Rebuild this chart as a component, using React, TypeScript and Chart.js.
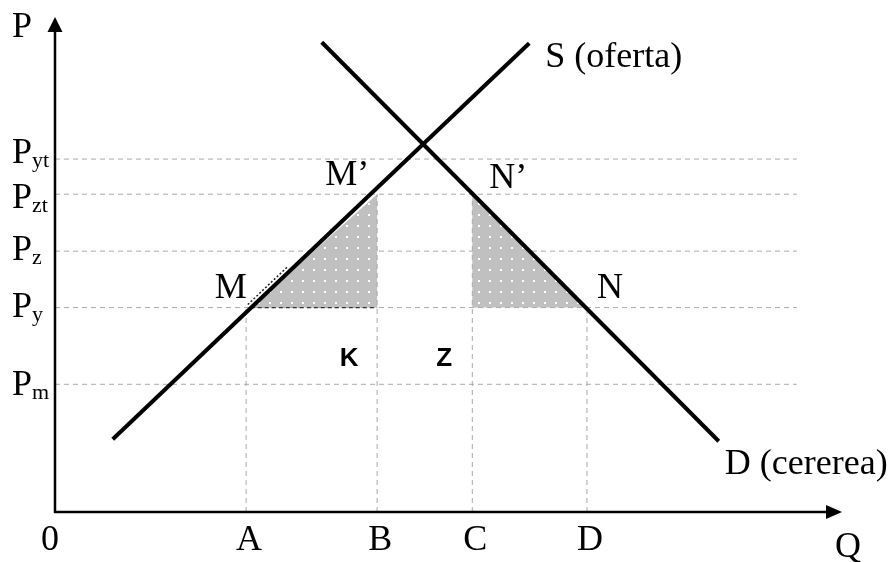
import React, { useEffect, useRef } from "react";
import { Chart, registerables } from "chart.js";

Chart.register(...registerables);

// ---- data ----
const qNames = ["A", "B", "C", "D"];
const qValues = [24.5, 41.3, 53.5, 68.2];
const pSubs = ["yt", "zt", "z", "y", "m"];
const pValues = [71.3, 64.2, 52.7, 41.3, 25.8];
const supplyQ = [7.4, 60.8];
const supplyP = [14.7, 94.7];
const demandQ = [34.2, 85.1];
const demandP = [94.9, 14.3];
const qM = 25.1; // supply meets Py
const guideEnd = 95.1;
const axisXMax = 100.9;
const axisYMax = 100;

const [qA, qB, qC, qD] = qValues;
const [pYt, pZt, pZ, pY, pM] = pValues;

// ---- layout (px offsets of labels) ----
const pLabelDy = [4, 14, 9, 9, 11];
const serif = '"Liberation Serif", "Times New Roman", serif';
const guideColor = "#aaaaaa";

function seg(points: { x: number; y: number }[], extra: any) {
  return {
    type: "line",
    data: points,
    pointRadius: 0,
    pointHoverRadius: 0,
    tension: 0,
    fill: false,
    ...extra,
  };
}

export default function App() {
  const ref = useRef<HTMLCanvasElement | null>(null);

  useEffect(() => {
    const canvas = ref.current!;
    const ctx0 = canvas.getContext("2d")!;
    const tile = document.createElement("canvas");
    tile.width = 11;
    tile.height = 11;
    const tctx = tile.getContext("2d")!;
    tctx.fillStyle = "#c0c0c0";
    tctx.fillRect(0, 0, 11, 11);
    tctx.fillStyle = "#ffffff";
    tctx.fillRect(5, 5, 2, 2);
    const pattern = ctx0.createPattern(tile, "repeat");

    const dashed = { borderColor: guideColor, borderWidth: 1, borderDash: [5, 4] };

    const datasets: any[] = [];
    [pYt, pZt, pZ, pM].forEach((p) =>
      datasets.push(seg([{ x: 0, y: p }, { x: guideEnd, y: p }], { ...dashed, order: 10 }))
    );
    datasets.push(
      seg(
        [
          { x: qM, y: pY },
          { x: qB, y: pZt },
          { x: qB, y: pY },
        ],
        { borderWidth: 0, borderColor: "rgba(0,0,0,0)", backgroundColor: pattern, fill: "shape", order: 6 }
      )
    );
    datasets.push(
      seg(
        [
          { x: qC, y: pY },
          { x: qC, y: pZt },
          { x: qD, y: pY },
        ],
        { borderWidth: 0, borderColor: "rgba(0,0,0,0)", backgroundColor: pattern, fill: "shape", order: 6 }
      )
    );
    datasets.push(seg([{ x: 0, y: pY }, { x: guideEnd, y: pY }], { ...dashed, order: 4 }));
    datasets.push(seg([{ x: qA, y: 0 }, { x: qA, y: pY }], { ...dashed, order: 4 }));
    datasets.push(seg([{ x: qB, y: 0 }, { x: qB, y: pZt }], { ...dashed, order: 4 }));
    datasets.push(seg([{ x: qC, y: 0 }, { x: qC, y: pZt }], { ...dashed, order: 4 }));
    datasets.push(seg([{ x: qD, y: 0 }, { x: qD, y: pY }], { ...dashed, order: 4 }));
    datasets.push(
      seg([{ x: qM, y: pY }, { x: qB, y: pY }], {
        borderColor: "#333333",
        borderWidth: 1.2,
        borderDash: [4, 3],
        order: 3,
      })
    );
    datasets.push(
      seg(
        supplyQ.map((q, i) => ({ x: q, y: supplyP[i] })),
        { borderColor: "#000", borderWidth: 4, order: 0 }
      )
    );
    datasets.push(
      seg(
        demandQ.map((q, i) => ({ x: q, y: demandP[i] })),
        { borderColor: "#000", borderWidth: 4, order: 0 }
      )
    );

    const drawPlugin = {
      id: "econ",
      afterDatasetsDraw(chart: any) {
        const { ctx } = chart;
        const xs = chart.scales.x;
        const ys = chart.scales.y;
        const X = (v: number) => xs.getPixelForValue(v);
        const Y = (v: number) => ys.getPixelForValue(v);
        ctx.save();

        const sx0 = X(supplyQ[0]), sy0 = Y(supplyP[0]);
        const sx1 = X(supplyQ[1]), sy1 = Y(supplyP[1]);
        const len = Math.hypot(sx1 - sx0, sy1 - sy0);
        const ux = (sx1 - sx0) / len, uy = (sy1 - sy0) / len;
        const mx = X(qM) - 3, my = Y(pY) - 3;
        ctx.strokeStyle = "#222";
        ctx.lineWidth = 1.5;
        ctx.setLineDash([2, 2]);
        ctx.beginPath();
        ctx.moveTo(mx, my);
        ctx.lineTo(mx + ux * 54, my + uy * 54);
        ctx.stroke();
        ctx.setLineDash([]);

        const ox = X(0), oy = Y(0);
        const ty = Y(axisYMax), tx = X(axisXMax);
        ctx.strokeStyle = "#000";
        ctx.fillStyle = "#000";
        ctx.lineWidth = 2.5;
        ctx.beginPath();
        ctx.moveTo(ox, oy + 1);
        ctx.lineTo(ox, ty + 12);
        ctx.moveTo(ox - 1, oy);
        ctx.lineTo(tx - 12, oy);
        ctx.stroke();
        ctx.beginPath();
        ctx.moveTo(ox, ty);
        ctx.lineTo(ox - 7.5, ty + 15);
        ctx.lineTo(ox + 7.5, ty + 15);
        ctx.closePath();
        ctx.fill();
        ctx.beginPath();
        ctx.moveTo(tx, oy);
        ctx.lineTo(tx - 16, oy - 7);
        ctx.lineTo(tx - 16, oy + 7);
        ctx.closePath();
        ctx.fill();

        ctx.textBaseline = "alphabetic";
        ctx.textAlign = "left";
        ctx.font = `36px ${serif}`;
        ctx.fillText("P", 12, 37);
        pValues.forEach((p, i) => {
          const by = Y(p) + pLabelDy[i];
          ctx.font = `36px ${serif}`;
          ctx.fillText("P", 12, by);
          const w = ctx.measureText("P").width;
          ctx.font = `22px ${serif}`;
          ctx.fillText(pSubs[i], 12 + w, by + 4);
        });

        ctx.font = `36px ${serif}`;
        ctx.textAlign = "center";
        ctx.fillText("0", ox - 5, 550);
        qValues.forEach((q, i) => ctx.fillText(qNames[i], X(q) + 3, 550));
        ctx.fillText("Q", tx + 6, 557);

        ctx.textAlign = "right";
        ctx.fillText("M", X(qM) - 4, Y(pY) - 10);
        ctx.textAlign = "left";
        ctx.fillText("M\u2019", X(qB) - 52, Y(pZt) - 9);
        ctx.fillText("N\u2019", X(qC) + 17, Y(pZt) - 6);
        ctx.fillText("N", X(qD) + 10, Y(pY) - 10);
        ctx.fillText("S (oferta)", X(supplyQ[1]) + 16, Y(supplyP[1]) + 24);
        ctx.fillText("D (cererea)", X(demandQ[1]) + 6, Y(demandP[1]) + 33);

        ctx.font = "bold 26px 'Liberation Sans'";
        ctx.textAlign = "center";
        ctx.fillText("K", X(qB) - 28, Y(pM) - 18);
        ctx.fillText("Z", X(qC) - 28, Y(pM) - 18);
        ctx.restore();
      },
    };

    const chart = new Chart(canvas, {
      type: "line",
      data: { datasets },
      options: {
        animation: false,
        responsive: false,
        maintainAspectRatio: false,
        devicePixelRatio: 1,
        layout: { padding: { left: 55, right: 58, top: 17, bottom: 50 } },
        scales: {
          x: { type: "linear", min: 0, max: 100, display: false },
          y: { type: "linear", min: 0, max: 100, display: false },
        },
        plugins: { legend: { display: false }, tooltip: { enabled: false } },
        events: [],
      },
      plugins: [drawPlugin],
    } as any);
    return () => chart.destroy();
  }, []);

  return (
    <div style={{ position: "fixed", left: 0, top: 0, width: 893, height: 562, background: "#fff" }}>
      <canvas ref={ref} width={893} height={562} style={{ width: 893, height: 562, display: "block" }} />
    </div>
  );
}
